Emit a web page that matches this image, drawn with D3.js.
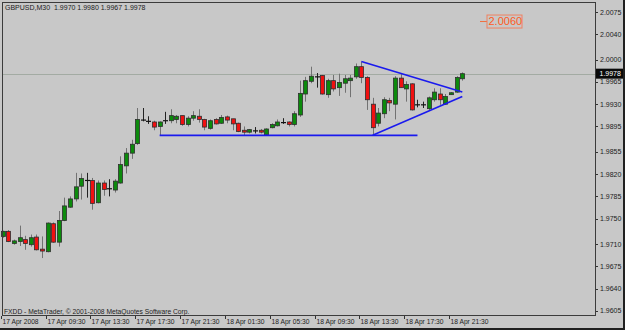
<!DOCTYPE html>
<html>
<head>
<meta charset="utf-8">
<script src="https://cdn.jsdelivr.net/npm/d3@7"></script>
<style>
  body { margin: 0; background: #c8c8c8; }
  svg { display: block; }
  text { font-family: "Liberation Sans", Arial, sans-serif; }
</style>
</head>
<body>
<div id="chart"></div>
<script>
// GBPUSD M30, 17 Apr 2008 05:30 .. 18 Apr 2008 22:30 (83 bars)
const opens = [
  1.9722, 1.9730, 1.9711, 1.9714, 1.9717, 1.9709, 1.9721, 1.9702, 1.9698, 1.9742,
  1.9713, 1.9747, 1.9768, 1.9781, 1.9801, 1.9810, 1.9810, 1.9775, 1.9806, 1.9797,
  1.9795, 1.9806, 1.9833, 1.9853, 1.9868, 1.9905, 1.9903, 1.9902, 1.9895, 1.9904,
  1.9904, 1.9906, 1.9912, 1.9898, 1.9908, 1.9911, 1.9906, 1.9892, 1.9906, 1.9900,
  1.9910, 1.9907, 1.9900, 1.9889, 1.9886, 1.9888, 1.9889, 1.9882, 1.9893, 1.9896,
  1.9901, 1.9902, 1.9898, 1.9913, 1.9946, 1.9966, 1.9973, 1.9975, 1.9945, 1.9967,
  1.9956, 1.9963, 1.9967, 1.9973, 1.9989, 1.9972, 1.9930, 1.9900, 1.9915, 1.9936,
  1.9930, 1.9971, 1.9954, 1.9962, 1.9929, 1.9929, 1.9923, 1.9937, 1.9946, 1.9930,
  1.9945, 1.9949, 1.9970
];
const highs = [
  1.9731, 1.9732, 1.9717, 1.9739, 1.9723, 1.9725, 1.9725, 1.9722, 1.9744, 1.9744,
  1.9762, 1.9783, 1.9785, 1.9822, 1.9821, 1.9822, 1.9814, 1.9810, 1.9810, 1.9812,
  1.9812, 1.9848, 1.9861, 1.9874, 1.9924, 1.9924, 1.9911, 1.9904, 1.9903, 1.9918,
  1.9922, 1.9913, 1.9912, 1.9911, 1.9919, 1.9922, 1.9907, 1.9906, 1.9908, 1.9913,
  1.9912, 1.9907, 1.9901, 1.9895, 1.9891, 1.9894, 1.9891, 1.9892, 1.9900, 1.9906,
  1.9908, 1.9903, 1.9919, 1.9967, 1.9973, 1.9989, 1.9979, 1.9976, 1.9970, 1.9976,
  1.9978, 1.9976, 1.9976, 1.9994, 1.9997, 1.9974, 1.9940, 1.9924, 1.9941, 1.9940,
  1.9974, 1.9979, 1.9966, 1.9963, 1.9937, 1.9934, 1.9942, 1.9955, 1.9955, 1.9946,
  1.9949, 1.9974, 1.9980
];
const lows = [
  1.9720, 1.9713, 1.9709, 1.9707, 1.9701, 1.9706, 1.9700, 1.9688, 1.9697, 1.9712,
  1.9706, 1.9746, 1.9767, 1.9777, 1.9780, 1.9783, 1.9764, 1.9774, 1.9786, 1.9785,
  1.9791, 1.9805, 1.9821, 1.9844, 1.9866, 1.9903, 1.9899, 1.9889, 1.9881, 1.9899,
  1.9900, 1.9900, 1.9896, 1.9895, 1.9904, 1.9901, 1.9889, 1.9890, 1.9898, 1.9899,
  1.9900, 1.9889, 1.9886, 1.9881, 1.9884, 1.9884, 1.9884, 1.9881, 1.9892, 1.9895,
  1.9899, 1.9895, 1.9895, 1.9910, 1.9934, 1.9963, 1.9956, 1.9945, 1.9940, 1.9950,
  1.9943, 1.9948, 1.9941, 1.9970, 1.9963, 1.9921, 1.9882, 1.9895, 1.9908, 1.9919,
  1.9906, 1.9956, 1.9934, 1.9920, 1.9925, 1.9924, 1.9920, 1.9934, 1.9929, 1.9929,
  1.9945, 1.9948, 1.9967
];
const closes = [
  1.9730, 1.9714, 1.9715, 1.9720, 1.9711, 1.9720, 1.9701, 1.9699, 1.9743, 1.9713,
  1.9747, 1.9770, 1.9781, 1.9800, 1.9813, 1.9810, 1.9774, 1.9806, 1.9796, 1.9797,
  1.9809, 1.9835, 1.9853, 1.9867, 1.9906, 1.9905, 1.9903, 1.9894, 1.9902, 1.9904,
  1.9912, 1.9911, 1.9898, 1.9908, 1.9912, 1.9906, 1.9894, 1.9904, 1.9899, 1.9909,
  1.9905, 1.9899, 1.9887, 1.9886, 1.9890, 1.9888, 1.9886, 1.9891, 1.9898, 1.9902,
  1.9901, 1.9898, 1.9915, 1.9947, 1.9967, 1.9974, 1.9973, 1.9946, 1.9967, 1.9954,
  1.9964, 1.9970, 1.9971, 1.9989, 1.9972, 1.9937, 1.9893, 1.9916, 1.9937, 1.9932,
  1.9971, 1.9956, 1.9961, 1.9921, 1.9929, 1.9929, 1.9940, 1.9949, 1.9937, 1.9942,
  1.9948, 1.9972, 1.9978
];

// time axis labels (every 8 bars)
const timeTickBars = [0, 8, 16, 24, 32, 40, 48, 56, 64, 72, 80];
const timeTickLabels = ["17 Apr 2008", "17 Apr 09:30", "17 Apr 13:30", "17 Apr 17:30", "17 Apr 21:30",
  "18 Apr 01:30", "18 Apr 05:30", "18 Apr 09:30", "18 Apr 13:30", "18 Apr 17:30", "18 Apr 21:30"];

// price axis labels
const priceTicks = [2.0075, 2.0040, 2.0000, 1.9965, 1.9930, 1.9895, 1.9855, 1.9820,
  1.9785, 1.9750, 1.9710, 1.9675, 1.9640, 1.9605];

// drawn trendlines: [bar1, price1, bar2, price2]
const trendLines = [
  [28, 1.9881, 74, 1.9881],
  [64, 1.9997, 82, 1.9949],
  [66, 1.9881, 82, 1.9942]
];
const priceLabel = 2.0060;
const bid = closes[closes.length - 1];

const width = 625, height = 330;
const plot = { left: 2, right: 595, top: 2, bottom: 315 };

const x = d3.scaleLinear().domain([0, 82]).range([2.7, 462.3]);
const y = d3.scaleLinear().domain([1.9600, 2.0086]).range([314, 5]);

const svg = d3.select("#chart").append("svg")
  .attr("width", width)
  .attr("height", height);

svg.append("rect").attr("width", width).attr("height", height).attr("fill", "#c8c8c8");

// bid line
svg.append("line")
  .attr("x1", plot.left).attr("x2", plot.right)
  .attr("y1", Math.round(y(bid)) + 0.5).attr("y2", Math.round(y(bid)) + 0.5)
  .attr("stroke", "#a3aba3").attr("stroke-width", 1);

// candles
const bars = d3.range(opens.length);
const g = svg.append("g");

g.selectAll(".wick")
  .data(bars)
  .enter()
  .append("line")
  .attr("x1", i => Math.round(x(i)) + 0.5)
  .attr("x2", i => Math.round(x(i)) + 0.5)
  .attr("y1", i => y(highs[i]))
  .attr("y2", i => y(lows[i]))
  .attr("stroke", i => opens[i] === closes[i] ? "#222" : "#727272")
  .attr("stroke-width", 1);

g.selectAll(".body")
  .data(bars.filter(i => opens[i] !== closes[i]))
  .enter()
  .append("rect")
  .attr("x", i => Math.round(x(i)) - 1.5)
  .attr("width", 4)
  .attr("y", i => y(Math.max(opens[i], closes[i])))
  .attr("height", i => Math.max(1, Math.abs(y(opens[i]) - y(closes[i]))))
  .attr("fill", i => closes[i] > opens[i] ? "#0c8a0c" : "#f01010")
  .attr("stroke", "#2e2e2e")
  .attr("stroke-width", 0.8);

// doji marks
g.selectAll(".doji")
  .data(bars.filter(i => opens[i] === closes[i]))
  .enter()
  .append("line")
  .attr("x1", i => Math.round(x(i)) - 2)
  .attr("x2", i => Math.round(x(i)) + 3)
  .attr("y1", i => y(opens[i]))
  .attr("y2", i => y(opens[i]))
  .attr("stroke", "#111")
  .attr("stroke-width", 1.2);

// trendlines
svg.selectAll(".trend")
  .data(trendLines)
  .enter()
  .append("line")
  .attr("x1", d => x(d[0]))
  .attr("y1", d => y(d[1]))
  .attr("x2", d => x(d[2]))
  .attr("y2", d => y(d[3]))
  .attr("stroke", "#1a1aee")
  .attr("stroke-width", 1.6);

// orange price label object
const plY = y(priceLabel);
svg.append("line")
  .attr("x1", 480).attr("x2", 487)
  .attr("y1", plY).attr("y2", plY)
  .attr("stroke", "#f07040").attr("stroke-width", 1);
svg.append("rect")
  .attr("x", 487).attr("y", plY - 6.5)
  .attr("width", 35).attr("height", 13)
  .attr("fill", "none").attr("stroke", "#f08060").attr("stroke-width", 1);
svg.append("text")
  .attr("x", 488.5).attr("y", plY)
  .attr("dy", "0.36em")
  .attr("font-size", "11px")
  .attr("fill", "#ff5a1e")
  .text(priceLabel.toFixed(4));

// frame
svg.append("rect")
  .attr("x", plot.left + 0.5).attr("y", plot.top + 0.5)
  .attr("width", plot.right - plot.left).attr("height", plot.bottom - plot.top)
  .attr("fill", "none").attr("stroke", "#3c3c3c").attr("stroke-width", 1);

// price axis
const pa = svg.append("g");
pa.selectAll("line")
  .data(priceTicks)
  .enter()
  .append("line")
  .attr("x1", plot.right + 1).attr("x2", plot.right + 3)
  .attr("y1", d => Math.round(y(d)) + 0.5).attr("y2", d => Math.round(y(d)) + 0.5)
  .attr("stroke", "#333");
pa.selectAll("text")
  .data(priceTicks)
  .enter()
  .append("text")
  .attr("x", 600)
  .attr("y", d => y(d))
  .attr("dy", "0.36em")
  .attr("font-size", "7px")
  .attr("fill", "#222")
  .text(d => d.toFixed(4));

// bid box
svg.append("rect")
  .attr("x", 596).attr("y", y(bid) - 5)
  .attr("width", 29).attr("height", 10)
  .attr("fill", "#0a0a0a");
svg.append("text")
  .attr("x", 599.5).attr("y", y(bid))
  .attr("dy", "0.36em")
  .attr("font-size", "7px")
  .attr("fill", "#fff")
  .text(bid.toFixed(4));

// time axis
const ta = svg.append("g");
ta.selectAll("line")
  .data(timeTickBars)
  .enter()
  .append("line")
  .attr("x1", d => Math.round(x(d)) - 1.5).attr("x2", d => Math.round(x(d)) - 1.5)
  .attr("y1", plot.bottom + 1).attr("y2", plot.bottom + 4)
  .attr("stroke", "#333");
ta.selectAll("text")
  .data(timeTickBars)
  .enter()
  .append("text")
  .attr("x", d => Math.round(x(d)) - 0.5)
  .attr("y", 322)
  .attr("dy", "0.36em")
  .attr("font-size", "6.7px")
  .attr("fill", "#222")
  .text((d, i) => timeTickLabels[i]);

// header and footer texts
svg.append("text")
  .attr("x", 5).attr("y", 7)
  .attr("dy", "0.36em")
  .attr("font-size", "7px")
  .attr("fill", "#222")
  .attr("xml:space", "preserve")
  .text("GBPUSD,M30  " + [opens[82], highs[82], lows[82], closes[82]].map(v => v.toFixed(4)).join(" "));

svg.append("text")
  .attr("x", 4).attr("y", 312)
  .attr("dy", "0.36em")
  .attr("font-size", "6.7px")
  .attr("fill", "#222")
  .text("FXDD - MetaTrader, \u00a9 2001-2008 MetaQuotes Software Corp.");

// outer dark edge at bottom/right
svg.append("rect")
  .attr("x", 0).attr("y", 328).attr("width", width).attr("height", 2).attr("fill", "#202020");
svg.append("rect")
  .attr("x", 623).attr("y", 0).attr("width", 2).attr("height", height).attr("fill", "#202020");
</script>
</body>
</html>
